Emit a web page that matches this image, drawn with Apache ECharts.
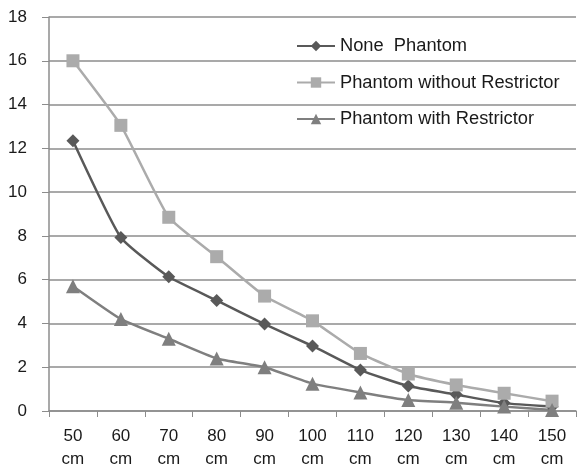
<!DOCTYPE html>
<html>
<head>
<meta charset="utf-8">
<script src="https://cdn.jsdelivr.net/npm/echarts@6/dist/echarts.min.js"></script>
<style>html,body{margin:0;padding:0;background:#fff}#c{width:577px;height:471px}</style>
</head>
<body>
<div id="c"></div>
<script>
var categories = ['50\ncm','60\ncm','70\ncm','80\ncm','90\ncm','100\ncm','110\ncm','120\ncm','130\ncm','140\ncm','150\ncm'];
var nonePhantom = [12.35, 7.93, 6.13, 5.05, 3.97, 2.97, 1.87, 1.14, 0.75, 0.36, 0.2];
var phantomWithout = [16.0, 13.05, 8.85, 7.05, 5.25, 4.12, 2.63, 1.69, 1.19, 0.81, 0.45];
var phantomWith = [5.7, 4.2, 3.3, 2.4, 2.0, 1.25, 0.85, 0.5, 0.38, 0.2, 0.05];
var yTicks = {min: 0, max: 18, interval: 2};

var chart = echarts.init(document.getElementById('c'));
var font = 'Liberation Sans, Arial, sans-serif';
chart.setOption({
  animation: false,
  grid: {left: 49, top: 17, right: 1, bottom: 60, containLabel: false, outerBoundsMode: 'none'},
  legend: {
    orient: 'vertical', left: 296, top: 37, padding: 0, itemGap: 18.5, itemWidth: 38, itemHeight: 13,
    textStyle: {fontFamily: font, fontSize: 18.3, color: '#1a1a1a'},
    data: ['None  Phantom', 'Phantom without Restrictor', 'Phantom with Restrictor']
  },
  xAxis: {
    type: 'category', data: categories, boundaryGap: true,
    axisLine: {lineStyle: {color: '#8c8c8c', width: 1.5}},
    axisTick: {show: true, length: 6, lineStyle: {color: '#8c8c8c'}},
    axisLabel: {fontFamily: font, fontSize: 17, color: '#1a1a1a', margin: 14, lineHeight: 23, interval: 0}
  },
  yAxis: {
    type: 'value', min: yTicks.min, max: yTicks.max, interval: yTicks.interval,
    axisLine: {show: true, lineStyle: {color: '#8c8c8c', width: 1.5}},
    axisTick: {show: true, length: 7, lineStyle: {color: '#8c8c8c'}},
    splitLine: {lineStyle: {color: '#8c8c8c', width: 1.5}},
    axisLabel: {fontFamily: font, fontSize: 17, color: '#1a1a1a', margin: 22}
  },
  series: [
    {name: 'None  Phantom', type: 'line', data: nonePhantom, smooth: 0.15,
     symbol: 'diamond', symbolSize: 13, itemStyle: {color: '#595959'}, lineStyle: {color: '#595959', width: 2.5}},
    {name: 'Phantom without Restrictor', type: 'line', data: phantomWithout, smooth: 0.15,
     symbol: 'rect', symbolSize: 13, itemStyle: {color: '#ababab'}, lineStyle: {color: '#ababab', width: 2.5}},
    {name: 'Phantom with Restrictor', type: 'line', data: phantomWith, smooth: 0.15,
     symbol: 'triangle', symbolSize: 14, itemStyle: {color: '#7f7f7f'}, lineStyle: {color: '#7f7f7f', width: 2.5}}
  ]
});
</script>
</body>
</html>
